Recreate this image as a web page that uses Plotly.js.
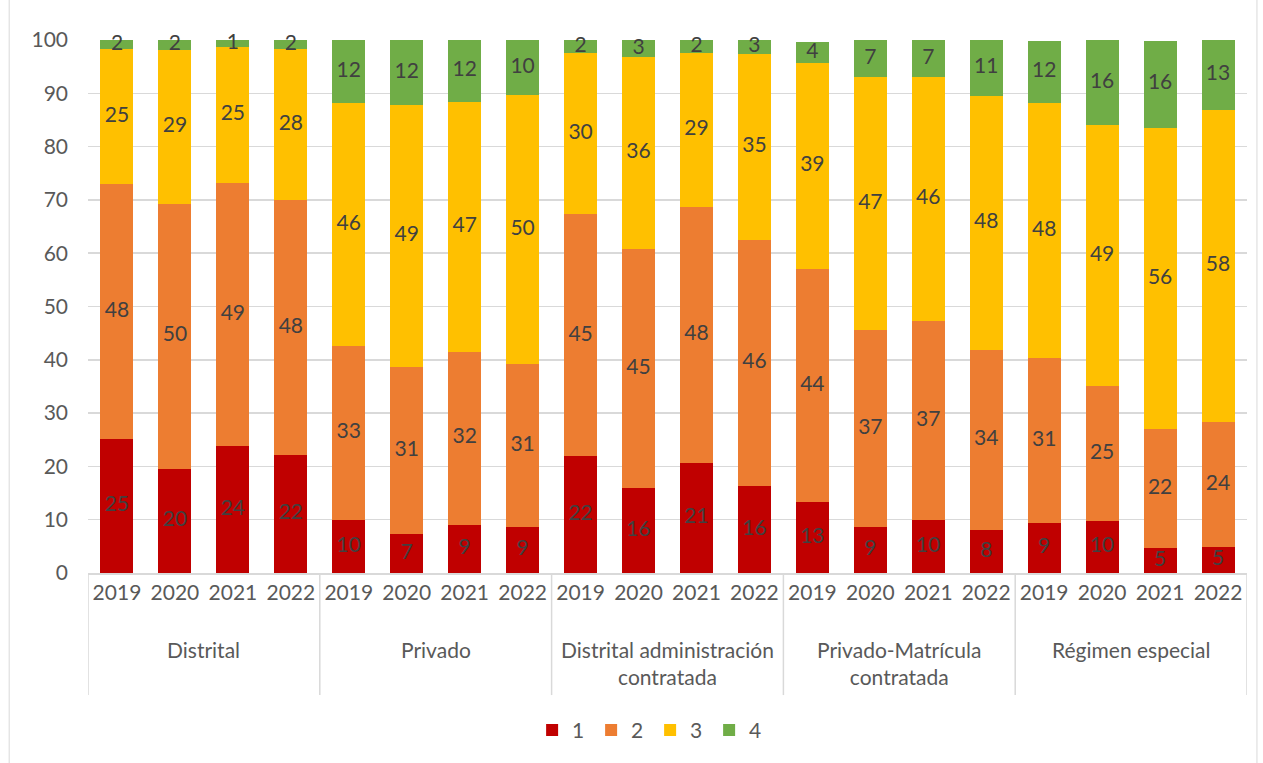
<!DOCTYPE html>
<html>
<head>
<meta charset="utf-8">
<script src="https://cdn.plot.ly/plotly-3.0.1.min.js"></script>
<style>html,body{margin:0;padding:0;background:#fff;}#chart{width:1263px;height:763px;}</style>
</head>
<body>
<div id="chart"></div>
<script>
const groups = ["Distrital", "Privado", "Distrital administración<br>contratada", "Privado-Matrícula<br>contratada", "Régimen especial"];
const years = ["2019", "2020", "2021", "2022"];
const seriesNames = ["1", "2", "3", "4"];
// values per bar, in order group by group, year by year
const s1 = [25.2, 19.6, 23.8, 22.1,  9.9, 7.3, 9.1, 8.6,  21.9, 16.0, 20.7, 16.3,  13.3, 8.7, 9.9, 8.1,  9.3, 9.7, 4.7, 4.8];
const s2 = [47.8, 49.7, 49.4, 47.8,  32.7, 31.4, 32.4, 30.7,  45.4, 44.8, 47.9, 46.2,  43.8, 36.9, 37.4, 33.8,  31.1, 25.4, 22.4, 23.6];
const s3 = [25.3, 28.8, 25.4, 28.4,  45.6, 49.1, 46.9, 50.3,  30.3, 36.0, 29.0, 34.9,  38.6, 47.4, 45.8, 47.6,  47.8, 49.0, 56.4, 58.4];
const s4 = [1.7, 1.9, 1.4, 1.7,  11.8, 12.2, 11.6, 10.4,  2.4, 3.2, 2.4, 2.6,  3.9, 7.0, 6.9, 10.6,  11.6, 15.9, 16.4, 13.2];
const colors = ["#C00000", "#ED7D31", "#FFC000", "#70AD47"];

const FONT = "Lato, 'Open Sans', sans-serif";
const xs = [], ticktext = [];
groups.forEach((g, gi) => years.forEach((y, yi) => { xs.push(gi * years.length + yi); ticktext.push(y); }));

const series = [s1, s2, s3, s4];
const data = series.map((vals, i) => ({
  type: "bar",
  name: seriesNames[i],
  x: xs,
  y: vals,
  marker: {color: colors[i], line: {width: 0}},
  hoverinfo: "skip"
}));

// data labels drawn on top of all bars, centred in each segment
const base = xs.map(() => 0);
series.forEach((vals) => {
  const mids = vals.map((v, k) => base[k] + v / 2);
  vals.forEach((v, k) => { base[k] += v; });
  data.push({
    type: "scatter", mode: "text", x: xs, y: mids,
    text: vals.map(v => String(Math.round(v))),
    textposition: "middle center",
    textfont: {family: FONT, size: 21, color: "#404040"},
    showlegend: false, hoverinfo: "skip", cliponaxis: false
  });
});

const shapes = [];
for (let gi = 0; gi <= groups.length; gi++) {
  shapes.push({type: "line", xref: "x", yref: "paper", x0: gi * 4 - 0.5, x1: gi * 4 - 0.5, y0: 0, y1: -0.229,
    line: {color: "#D9D9D9", width: 1.5}});
}
shapes.push({type: "rect", xref: "paper", yref: "paper", x0: -0.068, x1: 1.0086, y0: -0.42, y1: 1.2,
  line: {color: "#D9D9D9", width: 1}, fillcolor: "rgba(0,0,0,0)"});

const annotations = groups.map((g, gi) => ({
  xref: "x", yref: "paper", x: gi * 4 + 1.5, y: -0.116, yanchor: "top", xanchor: "center",
  text: g, showarrow: false, font: {family: FONT, size: 21, color: "#595959"}
}));

const layout = {
  width: 1263, height: 763,
  margin: {l: 88, r: 16, t: 40, b: 190},
  paper_bgcolor: "#fff", plot_bgcolor: "#fff",
  barmode: "stack",
  bargap: 0.43,
  font: {family: FONT, color: "#595959", size: 21},
  xaxis: {
    tickmode: "array", tickvals: xs, ticktext: ticktext,
    range: [-0.5, xs.length - 0.5],
    showgrid: false, zeroline: false,
    showline: true, linecolor: "#D9D9D9", linewidth: 1.5,
    ticks: "", tickfont: {family: FONT, size: 21, color: "#595959"},
    tickangle: 0, fixedrange: true
  },
  yaxis: {
    range: [0, 100], tick0: 0, dtick: 10,
    showgrid: true, gridcolor: "#D9D9D9", gridwidth: 1.5,
    zeroline: false, showline: false, ticks: "",
    tickfont: {family: FONT, size: 21, color: "#595959"},
    ticklabelstandoff: 19, fixedrange: true
  },
  legend: {
    orientation: "h", x: 0.485, xanchor: "center", y: -0.295, yanchor: "middle",
    traceorder: "normal",
    font: {family: FONT, size: 21, color: "#595959"},
    itemwidth: 30, entrywidth: 14, entrywidthmode: "pixels", tracegroupgap: 0
  },
  shapes: shapes,
  annotations: annotations,
  showlegend: true
};

Plotly.newPlot("chart", data, layout, {displayModeBar: false, staticPlot: true});
</script>
</body>
</html>
